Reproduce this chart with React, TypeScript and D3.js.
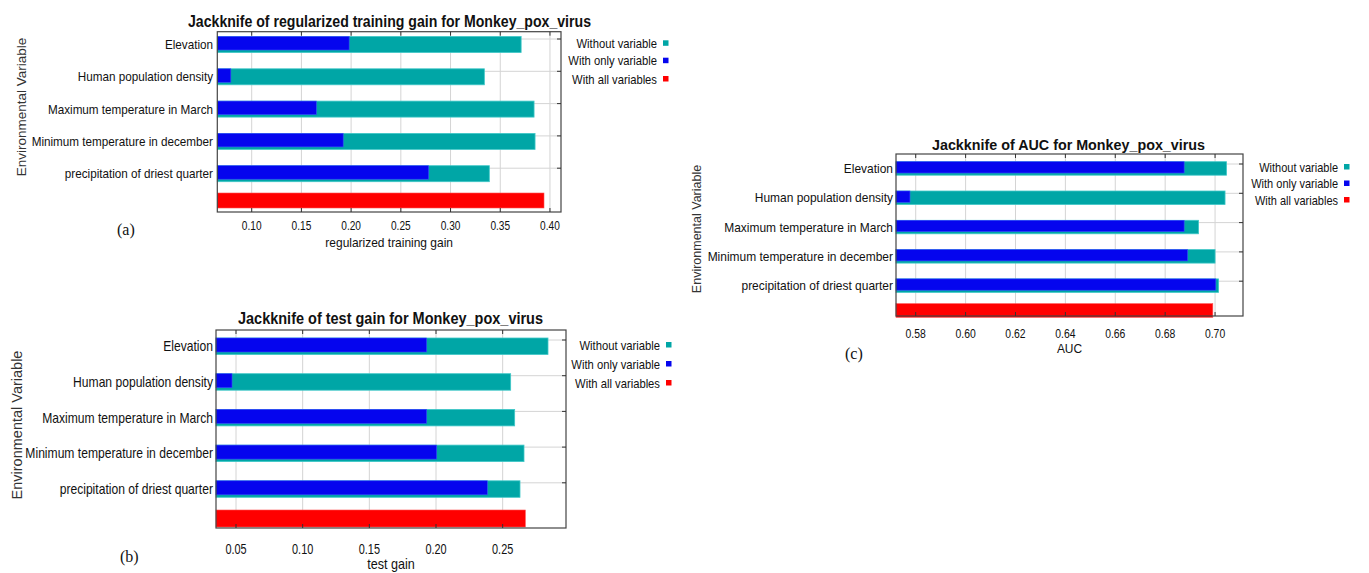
import React from "react";
import * as d3 from "d3";

const variables = [
  "Elevation",
  "Human population density",
  "Maximum temperature in March",
  "Minimum temperature in december",
  "precipitation of driest quarter",
];
const legendLabels = ["Without variable", "With only variable", "With all variables"];

const trainWithout = [0.371, 0.334, 0.384, 0.385, 0.339];
const trainOnly = [0.198, 0.079, 0.165, 0.192, 0.278];
const trainAll = 0.394;
const trainTicks = [0.1, 0.15, 0.2, 0.25, 0.3, 0.35, 0.4];

const testWithout = [0.284, 0.256, 0.259, 0.266, 0.263];
const testOnly = [0.193, 0.047, 0.193, 0.2005, 0.2385];
const testAll = 0.267;
const testTicks = [0.05, 0.1, 0.15, 0.2, 0.25];

const aucWithout = [0.7046, 0.704, 0.6934, 0.7, 0.7014];
const aucOnly = [0.6876, 0.5777, 0.6876, 0.689, 0.7003];
const aucAll = 0.6991;
const aucTicks = [0.58, 0.6, 0.62, 0.64, 0.66, 0.68, 0.7];

const TEAL = "#00a6a6";
const TEAL_EDGE = "#40c8c8";
const BLUE = "#0505ee";
const BLUE_EDGE = "#3a4cff";
const RED = "#ff0000";
const FONT = "'Liberation Sans', Arial, sans-serif";

type Layout = {
  left: number; right: number; top: number; bottom: number;
  domain: [number, number];
  gl0: number; pitch: number; barOff: number; barH: number; blueCut: number; redH: number;
  labelRight: number; catFs: number; catSx: number;
  tickFs: number; tickSx: number; tickBase: number;
  xTitleBase: number; xTitleFs: number; xTitleSx: number;
  titleX0: number; titleX1: number; titleBase: number; titleFs: number;
  yTitleX: number; yTitleY: number; yTitleFs: number;
  letter: string; letterX: number; letterY: number;
  legendRight: number; legendYs: number[]; legendFs: number; legendSx: number;
};

function SX({ x, y, sx, anchor, fs, children, weight }: any) {
  return (
    <text
      transform={`translate(${x},${y}) scale(${sx},1)`}
      textAnchor={anchor}
      fontSize={fs}
      fontFamily={FONT}
      fontWeight={weight || "normal"}
      fill="#111"
    >
      {children}
    </text>
  );
}

function Panel({ L, title, xLabel, without, only, all, ticks }: any) {
  const lay: Layout = L;
  const x = d3.scaleLinear().domain(lay.domain).range([lay.left, lay.right]);
  const yRow = d3.scaleLinear().domain([0, 5]).range([lay.gl0, lay.gl0 + 5 * lay.pitch]);
  const fmt = d3.format(".2f");
  const x0 = lay.left;
  const colors = [TEAL, BLUE, RED];
  return (
    <g>
      {ticks.map((t: number) => (
        <line key={"v" + t} x1={x(t)} x2={x(t)} y1={lay.top} y2={lay.bottom} stroke="#d4d4d4" strokeWidth={1} />
      ))}
      {variables.map((_, i) => (
        <line key={"h" + i} x1={lay.left} x2={lay.right} y1={yRow(i)} y2={yRow(i)} stroke="#d4d4d4" strokeWidth={1} />
      ))}
      {variables.map((v, i) => (
        <g key={"b" + i}>
          <rect x={x0} y={yRow(i) + lay.barOff} width={x(without[i]) - x0} height={lay.barH} fill={TEAL} stroke={TEAL_EDGE} strokeWidth={0.8} />
          <rect x={x0} y={yRow(i) + lay.barOff} width={x(only[i]) - x0} height={lay.barH - lay.blueCut} fill={BLUE} stroke={BLUE_EDGE} strokeWidth={0.6} />
        </g>
      ))}
      <rect x={x0} y={yRow(5) - lay.redH / 2} width={x(all) - x0} height={lay.redH} fill={RED} stroke="#ff5050" strokeWidth={0.6} />
      <rect x={lay.left} y={lay.top} width={lay.right - lay.left} height={lay.bottom - lay.top} fill="none" stroke="#444" strokeWidth={1.2} />
      {ticks.map((t: number) => (
        <g key={"t" + t}>
          <line x1={x(t)} x2={x(t)} y1={lay.bottom} y2={lay.bottom - 4} stroke="#333" />
          <line x1={x(t)} x2={x(t)} y1={lay.top} y2={lay.top + 4} stroke="#333" />
          <SX x={x(t)} y={lay.tickBase} sx={lay.tickSx} anchor="middle" fs={lay.tickFs}>{fmt(t)}</SX>
        </g>
      ))}
      {variables.map((_, i) => (
        <line key={"rt" + i} x1={lay.right} x2={lay.right - 4} y1={yRow(i)} y2={yRow(i)} stroke="#333" />
      ))}
      {variables.map((v, i) => (
        <SX key={"l" + i} x={lay.labelRight} y={yRow(i) + lay.barOff + lay.barH / 2 + lay.catFs * 0.36} sx={lay.catSx} anchor="end" fs={lay.catFs}>{v}</SX>
      ))}
      <text x={lay.titleX0} y={lay.titleBase} fontSize={lay.titleFs} fontWeight="bold" fontFamily={FONT}
        textLength={lay.titleX1 - lay.titleX0} lengthAdjust="spacingAndGlyphs" fill="#111">{title}</text>
      <SX x={(lay.left + lay.right) / 2} y={lay.xTitleBase} sx={lay.xTitleSx} anchor="middle" fs={lay.xTitleFs}>{xLabel}</SX>
      <text transform={`translate(${lay.yTitleX},${lay.yTitleY}) rotate(-90)`} textAnchor="middle" fontSize={lay.yTitleFs} fontFamily={FONT} fill="#333">Environmental Variable</text>
      <text x={lay.letterX} y={lay.letterY} fontSize={16} fontFamily="'Liberation Serif', 'Times New Roman', serif" fill="#111">{lay.letter}</text>
      {legendLabels.map((lab, i) => (
        <g key={"lg" + i}>
          <SX x={lay.legendRight} y={lay.legendYs[i] + lay.legendFs * 0.36} sx={lay.legendSx} anchor="end" fs={lay.legendFs}>{lab}</SX>
          <rect x={lay.legendRight + 6} y={lay.legendYs[i] - 3} width={5.5} height={5.5} fill={colors[i]} />
        </g>
      ))}
    </g>
  );
}

const layoutA: Layout = {
  left: 217.3, right: 561, top: 31.7, bottom: 212,
  domain: [0.0654, 0.4111],
  gl0: 39, pitch: 32.3, barOff: -2.5, barH: 16, blueCut: 2.5, redH: 15,
  labelRight: 213, catFs: 13, catSx: 0.9,
  tickFs: 13, tickSx: 0.78, tickBase: 229.5,
  xTitleBase: 247, xTitleFs: 13, xTitleSx: 0.92,
  titleX0: 188, titleX1: 591, titleBase: 27, titleFs: 16,
  yTitleX: 26, yTitleY: 107, yTitleFs: 13.5,
  letter: "(a)", letterX: 117, letterY: 235,
  legendRight: 657, legendYs: [43.3, 60.7, 79], legendFs: 12.5, legendSx: 0.9,
};

const layoutB: Layout = {
  left: 216, right: 566, top: 330, bottom: 528,
  domain: [0.035, 0.2975],
  gl0: 340, pitch: 35.7, barOff: -2, barH: 16.5, blueCut: 2.5, redH: 17,
  labelRight: 213, catFs: 14, catSx: 0.865,
  tickFs: 14, tickSx: 0.78, tickBase: 553.5,
  xTitleBase: 569, xTitleFs: 14, xTitleSx: 0.9,
  titleX0: 238, titleX1: 543, titleBase: 324, titleFs: 16,
  yTitleX: 22, yTitleY: 425, yTitleFs: 14.5,
  letter: "(b)", letterX: 120, letterY: 562,
  legendRight: 660, legendYs: [345, 364, 383], legendFs: 12.5, legendSx: 0.9,
};

const layoutC: Layout = {
  left: 896, right: 1243, top: 154, bottom: 316,
  domain: [0.5721, 0.7112],
  gl0: 164, pitch: 29.3, barOff: -2.3, barH: 13.5, blueCut: 2.2, redH: 13.7,
  labelRight: 893, catFs: 13, catSx: 0.92,
  tickFs: 13, tickSx: 0.8, tickBase: 337.5,
  xTitleBase: 353, xTitleFs: 13, xTitleSx: 0.92,
  titleX0: 932, titleX1: 1205, titleBase: 150, titleFs: 14.5,
  yTitleX: 701, yTitleY: 229, yTitleFs: 12.5,
  letter: "(c)", letterX: 845, letterY: 359,
  legendRight: 1338, legendYs: [167, 183.5, 200], legendFs: 12.5, legendSx: 0.88,
};

export default function App() {
  return (
    <svg width={1369} height={573} style={{ position: "fixed", left: 0, top: 0, background: "#fff" }}>
      <rect x={0} y={0} width={1369} height={573} fill="#fff" />
      <Panel L={layoutA} title="Jackknife of regularized training gain for Monkey_pox_virus" xLabel="regularized training gain"
        without={trainWithout} only={trainOnly} all={trainAll} ticks={trainTicks} />
      <Panel L={layoutB} title="Jackknife of test gain for Monkey_pox_virus" xLabel="test gain"
        without={testWithout} only={testOnly} all={testAll} ticks={testTicks} />
      <Panel L={layoutC} title="Jackknife of AUC for Monkey_pox_virus" xLabel="AUC"
        without={aucWithout} only={aucOnly} all={aucAll} ticks={aucTicks} />
    </svg>
  );
}
